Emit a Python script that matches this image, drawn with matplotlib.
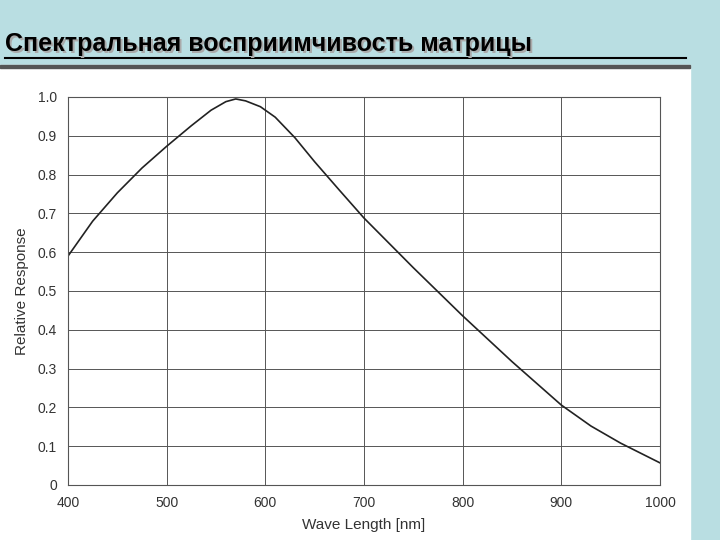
import matplotlib
matplotlib.use("Agg")
import matplotlib.pyplot as plt

wavelength = [400, 425, 450, 475, 500, 525, 545, 560, 570, 580, 595, 610, 630, 650, 675, 700, 750, 800, 850, 900, 930, 960, 1000]
response = [0.59, 0.68, 0.753, 0.817, 0.873, 0.926, 0.966, 0.988, 0.995, 0.99, 0.975, 0.948, 0.895, 0.833, 0.76, 0.688, 0.56, 0.436, 0.318, 0.206, 0.152, 0.108, 0.057]
xticks = [400, 500, 600, 700, 800, 900, 1000]
yticks = [0, 0.1, 0.2, 0.3, 0.4, 0.5, 0.6, 0.7, 0.8, 0.9, 1.0]
yticklabels = ["0", "0.1", "0.2", "0.3", "0.4", "0.5", "0.6", "0.7", "0.8", "0.9", "1.0"]
title = "Спектральная восприимчивость матрицы"

plt.rcParams['font.family'] = ['Liberation Sans', 'DejaVu Sans']
fig = plt.figure(figsize=(7.2, 5.4), dpi=100)
fig.patch.set_facecolor('#b9dee2')
fig.add_artist(plt.Rectangle((0, 0), 690/720, 1 - 65/540, transform=fig.transFigure, color='white', zorder=0))
fig.add_artist(plt.Rectangle((0, 1 - 68/540), 690/720, 3/540, transform=fig.transFigure, color='#555555', zorder=1))
fig.text(7/720, 1 - 46/540, title, fontsize=18, fontweight='bold', color='#aaaaaa', va='center')
fig.text(5/720, 1 - 44/540, title, fontsize=18, fontweight='bold', color='black', va='center')
fig.add_artist(plt.Line2D([5/720, 686/720], [1 - 58/540, 1 - 58/540], transform=fig.transFigure, color='black', lw=1.5))

ax = fig.add_axes([68/720, 1 - 485/540, 592/720, 388/540])
ax.plot(wavelength, response, color='#222222', lw=1.2)
ax.set_xlim(400, 1000)
ax.set_ylim(0, 1.0)
ax.set_xticks(xticks)
ax.set_yticks(yticks)
ax.set_yticklabels(yticklabels)
ax.grid(True, color='#555555', lw=0.7)
ax.tick_params(length=0, labelsize=10, colors='#333333', pad=8)
for s in ax.spines.values():
    s.set_color('#555555'); s.set_linewidth(0.8)
ax.set_xlabel("Wave Length [nm]", fontsize=11, color='#333333', labelpad=6)
ax.set_ylabel("Relative Response", fontsize=11, color='#333333', labelpad=6)
fig.savefig("out.png", dpi=100, facecolor=fig.get_facecolor())
